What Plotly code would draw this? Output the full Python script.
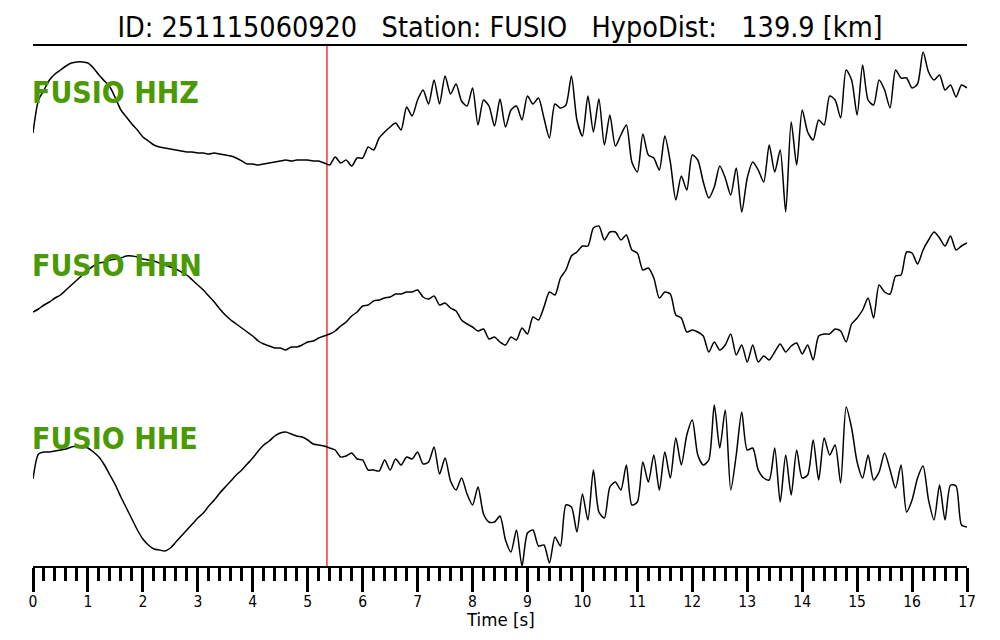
import numpy as np
import plotly.graph_objects as go

# Sample times [s] (0.1 s spacing, 0..17 s)
time_s = np.round(np.arange(171) * 0.1, 1)

# Amplitudes (arbitrary units, positive = up)
hhz = [
    -3, 30, 40, 50, 56, 60, 64, 67, 68, 68,
    67, 62, 55, 49, 43, 32, 20, 13, 6, 0,
    -7, -11, -15, -17, -18, -19, -20, -21, -22, -22,
    -23, -23, -24, -23, -24, -25, -26, -28, -31, -34,
    -34, -35, -34, -33, -32, -31, -30, -31, -30, -30,
    -30, -31, -31, -33, -35, -27, -33, -30, -36, -28,
    -28, -17, -20, -8, -2, 3, 7, 0, 23, 14,
    30, 40, 26, 50, 26, 54, 36, 46, 29, 24,
    42, 5, 30, 24, 4, 31, 3, 20, 24, 10,
    34, 26, 32, 12, -8, 26, 22, 25, 54, 10,
    -6, 34, -2, 31, -15, 15, -16, -5, 5, -32,
    -42, -4, -25, -28, -40, -6, -32, -70, -46, -60,
    -25, -30, -52, -68, -57, -36, -48, -65, -38, -82,
    -48, -32, -40, -52, -15, -42, -20, -82, 8, -35,
    20, -2, -10, 10, 5, 34, 30, 12, 60, 50,
    15, 65, 30, 25, 50, 40, 22, 60, 52, 52,
    42, 46, 78, 58, 50, 55, 40, 45, 33, 45, 42,
]
hhn = [
    -12, -9, -5, -2, 2, 5, 10, 15, 20, 25,
    30, 34, 37, 38, 40, 41, 42, 44, 44, 43,
    41, 40, 39, 37, 35, 33, 31, 28, 25, 20,
    15, 10, 4, -2, -9, -15, -20, -24, -28, -32,
    -36, -41, -44, -46, -48, -48, -50, -47, -47, -45,
    -42, -41, -38, -36, -34, -31, -26, -22, -16, -12,
    -6, -5, -1, 0, 2, 3, 6, 6, 8, 8,
    10, 3, 1, 4, -5, -3, -8, -11, -20, -24,
    -27, -31, -29, -39, -37, -42, -45, -37, -40, -28,
    -34, -17, -20, -7, 8, 5, 22, 30, 44, 48,
    54, 54, 72, 74, 60, 68, 68, 60, 65, 50,
    47, 30, 32, 22, 2, 8, 6, -15, -18, -32,
    -30, -32, -36, -52, -42, -50, -45, -34, -55, -45,
    -62, -45, -62, -56, -60, -52, -44, -52, -46, -43,
    -54, -45, -60, -36, -34, -34, -29, -31, -42, -24,
    -18, -10, 2, -18, 15, 8, 6, 24, 25, 48,
    47, 36, 50, 60, 68, 62, 54, 64, 50, 54, 57,
]
hhe = [
    6, 31, 33, 33, 34, 35, 36, 38, 39, 39,
    37, 33, 28, 20, 10, 0, -12, -23, -34, -45,
    -54, -60, -64, -65, -66, -63, -57, -51, -45, -39,
    -33, -28, -21, -15, -8, -2, 4, 10, 15, 21,
    27, 34, 40, 44, 49, 52, 53, 51, 49, 48,
    45, 41, 40, 39, 37, 35, 28, 29, 32, 26,
    25, 15, 15, 14, 25, 15, 26, 20, 28, 26,
    33, 21, 23, 38, 11, 27, 4, -5, 7, -9,
    -20, -2, -29, -37, -37, -31, -55, -67, -45, -81,
    -48, -45, -61, -60, -78, -52, -61, -20, -22, -47,
    -9, -35, 15, -27, -33, -2, 3, -5, 20, -20,
    -17, 23, 3, 30, -5, 33, 7, 47, 20, 50,
    65, 30, 20, 25, 80, 37, 75, -5, 30, 73,
    35, 37, 15, 7, 5, 37, -17, 30, -10, 35,
    7, 10, 45, 5, 47, 30, 40, 2, 78, 57,
    23, 7, 30, 5, 13, 32, 15, -3, 20, -27,
    -15, 7, 19, -15, -35, 0, -35, 0, -1, -40, -42,
]

channels = ["FUSIO HHZ", "FUSIO HHN", "FUSIO HHE"]
series = [hhz, hhn, hhe]
offsets = [0, -170, -355]
label_pos = [38, -135, -308]
pick_time = 5.35
title_text = "ID: 251115060920\u00a0\u00a0\u00a0Station: FUSIO\u00a0\u00a0\u00a0HypoDist:\u00a0\u00a0\u00a0139.9 [km]"

FONT = "DejaVu Sans Condensed, DejaVu Sans, sans-serif"

fig = go.Figure()
for vals, off in zip(series, offsets):
    fig.add_trace(go.Scatter(
        x=time_s, y=np.array(vals) + off, mode="lines",
        line=dict(color="black", width=1.5, shape="spline", smoothing=0.7),
        hoverinfo="skip", showlegend=False,
    ))

fig.add_shape(type="line", x0=pick_time, x1=pick_time, xref="x", yref="paper",
              y0=0, y1=1, line=dict(color="#e8141e", width=1.3), layer="below")

for name, yp in zip(channels, label_pos):
    fig.add_annotation(text="<b>" + name + "</b>", x=0, xref="paper", xanchor="left",
                       xshift=-3, y=yp, yref="y", yanchor="middle", showarrow=False,
                       font=dict(family=FONT, size=30, color="#4b9a05"))

fig.add_annotation(text="Time [s]", x=0.5, xref="paper", xanchor="center",
                   y=0, yref="paper", yanchor="middle", yshift=-53,
                   showarrow=False, font=dict(family=FONT, size=18.5, color="black"))

fig.update_layout(
    width=1000, height=640,
    margin=dict(l=33, r=33, t=46, b=74),
    paper_bgcolor="white", plot_bgcolor="white",
    title=dict(text=title_text, x=0.5, xanchor="center", y=1 - 27 / 640,
               yanchor="middle", yref="container",
               font=dict(family=FONT, size=28.5, color="black")),
    xaxis=dict(
        range=[0, 17], showgrid=False, zeroline=False,
        showline=True, linecolor="black", linewidth=2, mirror=True,
        ticks="outside", ticklen=24, tickwidth=2.5, tickcolor="black",
        dtick=1, tick0=0, ticklabelstandoff=-4,
        tickfont=dict(family=FONT, size=15.5, color="black"),
        minor=dict(ticks="outside", dtick=0.2, tick0=0, ticklen=13,
                   tickwidth=2.5, tickcolor="black", showgrid=False),
    ),
    yaxis=dict(range=[-436, 84], visible=False, showgrid=False, zeroline=False),
)

fig.write_html("out.html", config={"displayModeBar": False},
               post_script="document.body.style.margin='0';")
